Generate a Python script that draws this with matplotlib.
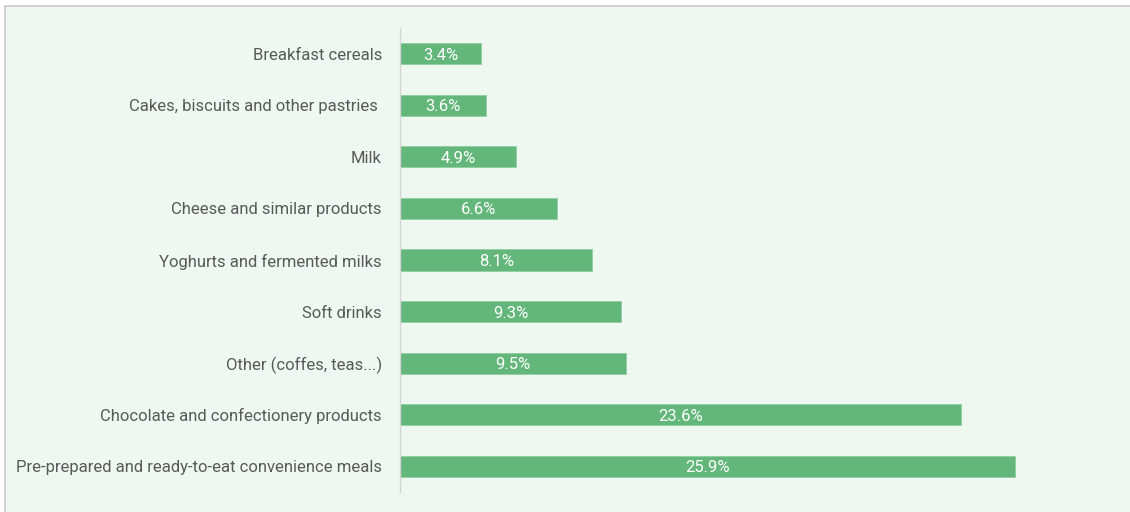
import matplotlib
matplotlib.use("Agg")
import matplotlib.pyplot as plt
from matplotlib.patches import Rectangle

categories = [
    "Breakfast cereals",
    "Cakes, biscuits and other pastries ",
    "Milk",
    "Cheese and similar products",
    "Yoghurts and fermented milks",
    "Soft drinks",
    "Other (coffes, teas...)",
    "Chocolate and confectionery products",
    "Pre-prepared and ready-to-eat convenience meals",
]
shares = [3.4, 3.6, 4.9, 6.6, 8.1, 9.3, 9.5, 23.6, 25.9]

W, H = 1130, 512
bg = "#EEF7F0"
bar_color = "#63B77A"
text_color = "#595959"

plt.rcParams["font.family"] = ["Roboto", "DejaVu Sans"]

fig = plt.figure(figsize=(W / 100, H / 100), dpi=100)
fig.patch.set_facecolor("white")

# panel background with thin frame on the top and left
fig.patches.append(Rectangle((5 / W, -0.1), 1.2, 1.1 - 6 / H, transform=fig.transFigure,
                             facecolor=bg, edgecolor="#C9C9C9", linewidth=1.2, zorder=-5))

left, right = 400 / W, 1100 / W
top, bottom = 1 - 28 / H, 1 - 492 / H
ax = fig.add_axes([left, bottom, right - left, top - bottom])
ax.set_zorder(2)
ax.set_facecolor("none")

ypos = list(range(len(categories)))
bars = ax.barh(ypos, shares, height=0.41, color=bar_color,
               edgecolor="#8ED0A0", linewidth=0.6)
px_per_unit = 23.75
ax.set_xlim(0, (1100 - 400) / px_per_unit)
ax.set_ylim(len(categories) - 0.5, -0.5)

for b, v in zip(bars, shares):
    ax.text(v / 2, b.get_y() + b.get_height() / 2 + 0.03, f"{v:.1f}%",
            ha="center", va="center", color="white", fontsize=12)

ax.set_yticks(ypos)
ax.set_yticklabels(categories, fontsize=12, color=text_color)
ax.tick_params(axis="y", length=0, pad=13)
ax.set_xticks([])
for s in ["top", "right", "bottom"]:
    ax.spines[s].set_visible(False)
ax.spines["left"].set_color("#D4D4D4")
ax.spines["left"].set_linewidth(1.0)

fig.savefig("out.png", dpi=100, facecolor=fig.get_facecolor())
